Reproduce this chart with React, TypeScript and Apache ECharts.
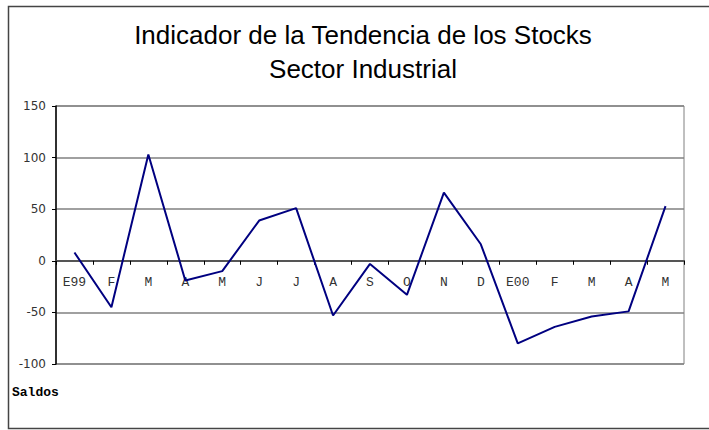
import React, { useEffect, useRef } from "react";
import * as echarts from "echarts";

const categories = ["E99", "F", "M", "A", "M", "J", "J", "A", "S", "O", "N", "D", "E00", "F", "M", "A", "M"];
const values = [8, -45, 103, -19, -10, 39, 51, -53, -3, -33, 66, 16, -80, -64, -54, -49, 53];
const yTicks = { min: -100, max: 150, interval: 50 };
const titleLines = ["Indicador de la Tendencia de los Stocks", "Sector Industrial"];
const yAxisName = "Saldos";

export default function App() {
  const ref = useRef<HTMLDivElement>(null);
  useEffect(() => {
    if (!ref.current) return;
    const chart = echarts.init(ref.current, null, { renderer: "svg" });
    const gridTop = 106;
    const gridBottom = 66;
    const gridHeight = 430 - gridTop - gridBottom;
    const zeroOffset = (gridHeight * (0 - yTicks.min)) / (yTicks.max - yTicks.min);
    chart.setOption({
      animation: false,
      backgroundColor: "#ffffff",
      title: {
        text: titleLines.join("\n"),
        left: 358,
        textAlign: "center",
        top: 13,
        textStyle: {
          fontFamily: "Liberation Sans, Arial, sans-serif",
          fontSize: 26,
          fontWeight: "normal",
          color: "#000000",
          lineHeight: 34,
        },
      },
      graphic: [
        {
          type: "rect",
          shape: { x: 8.5, y: 6.5, width: 720, height: 422 },
          style: { fill: "none", stroke: "#444444", lineWidth: 1.5 },
          silent: true,
          z: -1,
        },
        {
          type: "text",
          x: 12,
          y: 392,
          style: {
            text: yAxisName,
            fontFamily: "Liberation Mono, Courier New, monospace",
            fontWeight: "bold",
            fontSize: 13,
            fill: "#000000",
            verticalAlign: "middle",
          },
        },
      ],
      grid: {
        left: 56,
        top: gridTop,
        right: 25,
        bottom: gridBottom,
        show: true,
        borderColor: "#808080",
        borderWidth: 1,
        containLabel: false,
      },
      xAxis: {
        type: "category",
        data: categories,
        boundaryGap: true,
        position: "bottom",
        offset: -zeroOffset,
        axisLine: { show: true, onZero: false, lineStyle: { color: "#555555", width: 2 } },
        axisTick: { show: true, length: 4, lineStyle: { color: "#000000" } },
        axisLabel: {
          margin: 15,
          interval: 0,
          fontFamily: "Liberation Mono, Courier New, monospace",
          fontSize: 13,
          color: "#333333",
        },
        splitLine: { show: false },
      },
      yAxis: {
        type: "value",
        min: yTicks.min,
        max: yTicks.max,
        interval: yTicks.interval,
        axisLine: { show: true, lineStyle: { color: "#000000", width: 1.5 } },
        axisTick: { show: true, length: 4, lineStyle: { color: "#000000" } },
        axisLabel: {
          margin: 10,
          fontFamily: "DejaVu Sans, Verdana, sans-serif",
          fontSize: 12,
          color: "#333333",
        },
        splitLine: { show: true, lineStyle: { color: "#808080", width: 1.5 } },
      },
      series: [
        {
          type: "line",
          data: values,
          symbol: "none",
          lineStyle: { color: "#000080", width: 2 },
        },
      ],
    });
    return () => chart.dispose();
  }, []);
  return (
    <div
      ref={ref}
      style={{ position: "absolute", left: 0, top: 0, width: 709, height: 430 }}
    />
  );
}
